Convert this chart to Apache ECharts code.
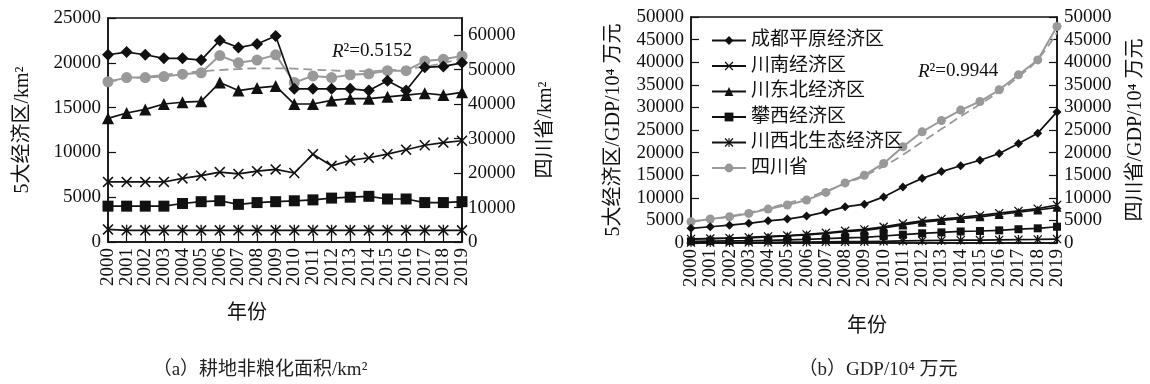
<!DOCTYPE html>
<html>
<head>
<meta charset="utf-8">
<script src="https://cdn.jsdelivr.net/npm/echarts@6/dist/echarts.min.js"></script>
<style>
  html, body { margin: 0; background: #fff; }
  #chart { width: 1150px; height: 384px; }
</style>
</head>
<body>
<div id="chart"></div>
<script>
const years = ['2000','2001','2002','2003','2004','2005','2006','2007','2008','2009',
  '2010','2011','2012','2013','2014','2015','2016','2017','2018','2019']
const seriesNames = ['成都平原经济区', '川南经济区', '川东北经济区', '攀西经济区', '川西北生态经济区', '四川省']

// (a) non-grain cropland area, km2
const areaChengdu = [20900, 21200, 20900, 20500, 20500, 20300, 22500, 21700, 22100, 23000,
  17100, 17100, 17100, 17100, 16900, 18000, 16900, 19500, 19600, 20000]
const areaSouth = [6700, 6700, 6700, 6700, 7100, 7400, 7800, 7600, 7900, 8100,
  7700, 9800, 8500, 9100, 9400, 9800, 10300, 10800, 11100, 11300]
const areaNortheast = [13800, 14400, 14800, 15400, 15600, 15700, 17800, 16900, 17200, 17400,
  15400, 15400, 15800, 16000, 16000, 16200, 16400, 16600, 16400, 16700]
const areaPanxi = [4000, 4000, 4000, 4000, 4300, 4500, 4600, 4200, 4400, 4500,
  4600, 4700, 4900, 5000, 5100, 4800, 4800, 4400, 4400, 4500]
const areaNorthwest = [1400, 1300, 1300, 1300, 1300, 1300, 1300, 1300, 1300, 1300,
  1300, 1300, 1300, 1300, 1300, 1300, 1300, 1300, 1300, 1300]
const areaSichuan = [46500, 47700, 47700, 48000, 48700, 49100, 54100, 52000, 52800, 54300,
  46300, 48200, 47700, 48500, 48800, 49700, 49700, 52500, 53000, 54000]
const areaSichuanTrend = [46600, 47300, 47900, 48500, 49000, 49500, 49900, 50200, 50400, 50400,
  50300, 50000, 49800, 49600, 49600, 49800, 50200, 50900, 51900, 53300]

// (b) GDP, 10^4 yuan
const gdpChengdu = [3250, 3600, 3950, 4350, 4900, 5300, 5950, 6900, 8000, 8600,
  10200, 12400, 14300, 15800, 17100, 18300, 19800, 22000, 24300, 29000]
const gdpSouth = [900, 1000, 1100, 1250, 1450, 1650, 1900, 2250, 2700, 3000,
  3600, 4300, 4900, 5300, 5700, 6100, 6600, 7100, 7600, 8400]
const gdpNortheast = [850, 950, 1050, 1150, 1350, 1550, 1800, 2100, 2500, 2800,
  3350, 4000, 4600, 5000, 5400, 5800, 6300, 6800, 7300, 7900]
const gdpPanxi = [350, 400, 450, 500, 600, 700, 800, 950, 1150, 1250,
  1550, 1850, 2150, 2350, 2550, 2650, 2800, 3050, 3250, 3600]
const gdpNorthwest = [100, 110, 120, 140, 160, 180, 210, 250, 290, 320,
  380, 450, 520, 580, 620, 650, 690, 740, 790, 860]
const gdpSichuan = [4700, 5300, 5800, 6550, 7500, 8400, 9500, 11200, 13300, 15000,
  17600, 21300, 24600, 27100, 29400, 31300, 33900, 37200, 40500, 47900]
const gdpSichuanTrend = [4700, 5200, 5900, 6700, 7700, 8800, 10000, 11500, 13100, 14900,
  17000, 19500, 22400, 25200, 28000, 30700, 33500, 36800, 40600, 46600]

const FONT = "'Liberation Serif', 'Noto Sans CJK SC', serif"
const BLACK = '#111'
const GRAY = '#999'

const crossPath = 'path://M1,0L5,4L9,0L10,1L6,5L10,9L9,10L5,6L1,10L0,9L4,5L0,1Z'
const starPath = 'path://M1,0L5,4L9,0L10,1L6,5L10,9L9,10L5,6L1,10L0,9L4,5L0,1Z' +
  'M4.4,0L5.6,0L5.6,10L4.4,10Z'
const symbols = ['diamond', crossPath, 'triangle', 'rect', starPath, 'circle']
const leftSizes = [12, 11, 12, 11, 11, 11]
const rightSizes = [9, 9, 9, 8, 9, 9]

function lineSeries(name, data, idx, gridIdx, yIdx, sizes) {
  const color = idx === 5 ? GRAY : BLACK
  return {
    name, type: 'line', data,
    xAxisIndex: gridIdx, yAxisIndex: yIdx,
    symbol: symbols[idx], symbolSize: sizes[idx],
    lineStyle: { color, width: idx === 5 ? 2 : 1.7 },
    itemStyle: { color, borderWidth: 0 },
    z: idx === 5 ? 3 : 4, animation: false,
  }
}

function trendSeries(name, data, gridIdx, yIdx) {
  return {
    name, type: 'line', data, xAxisIndex: gridIdx, yAxisIndex: yIdx,
    symbol: 'none', smooth: true,
    lineStyle: { color: GRAY, width: 1.8, type: [9, 5] },
    z: 2, animation: false,
  }
}

function xAxis(gridIndex, gap, pad) {
  return {
    type: 'category', data: years, gridIndex, boundaryGap: false,
    name: '年份', nameLocation: 'middle', nameGap: gap,
    nameTextStyle: { fontFamily: FONT, fontSize: 20, color: BLACK, padding: pad },
    axisLine: { lineStyle: { color: BLACK, width: 1.5 } },
    axisTick: { inside: true, length: 8, lineStyle: { color: BLACK, width: 1.2 } },
    axisLabel: { rotate: 90, interval: 0, margin: 6, fontFamily: FONT, fontSize: 19, color: BLACK },
  }
}

function yAxis(gridIndex, position, max, interval, name, gap, extra) {
  return Object.assign({
    type: 'value', gridIndex, position, min: 0, max, interval,
    name, nameLocation: 'middle', nameGap: gap, nameRotate: 90,
    nameTextStyle: { fontFamily: FONT, fontSize: 20, color: BLACK },
    splitLine: { show: false },
    axisLine: { show: true, lineStyle: { color: BLACK, width: 1.5 } },
    axisTick: { show: true, inside: true, length: 8, lineStyle: { color: BLACK, width: 1.2 } },
    axisLabel: { margin: 7, fontFamily: FONT, fontSize: 19, color: BLACK, formatter: v => String(v) },
  }, extra || {})
}

const chart = echarts.init(document.getElementById('chart'))
chart.setOption({
  backgroundColor: '#fff',
  textStyle: { fontFamily: FONT },
  title: [
    { text: '{i|R}²=0.5152', left: 327, top: 37,
      textStyle: { fontFamily: FONT, fontSize: 19, fontWeight: 'normal', color: BLACK,
        rich: { i: { fontFamily: FONT, fontSize: 19, fontStyle: 'italic', color: BLACK } } } },
    { text: '{i|R}²=0.9944', left: 913, top: 57,
      textStyle: { fontFamily: FONT, fontSize: 19, fontWeight: 'normal', color: BLACK,
        rich: { i: { fontFamily: FONT, fontSize: 19, fontStyle: 'italic', color: BLACK } } } },
    { text: '（a）耕地非粮化面积/km²', left: 255, top: 356, textAlign: 'center',
      textStyle: { fontFamily: FONT, fontSize: 19, fontWeight: 'normal', color: '#222' } },
    { text: '（b）GDP/10⁴ 万元', left: 873, top: 356, textAlign: 'center',
      textStyle: { fontFamily: FONT, fontSize: 19, fontWeight: 'normal', color: '#222' } },
  ],
  legend: {
    data: seriesNames, orient: 'vertical', left: 706, top: 26,
    itemWidth: 34, itemHeight: 11, itemGap: 6.5,
    textStyle: { fontFamily: FONT, fontSize: 19, color: BLACK },
  },
  grid: [
    { left: 108, right: 688, top: 18, bottom: 142, show: true, borderColor: BLACK, borderWidth: 1.5 },
    { left: 691, right: 93, top: 17, bottom: 141, show: true, borderColor: BLACK, borderWidth: 1.5 },
  ],
  xAxis: [xAxis(0, 62, [0, 76, 0, 0]), xAxis(1, 74, [0, 14, 0, 0])],
  yAxis: [
    yAxis(0, 'left', 25000, 5000, '5大经济区/km²', 75),
    yAxis(0, 'right', 65000, 10000, '四川省/km²', 74,
      { axisLabel: { margin: 6, fontFamily: FONT, fontSize: 19, color: BLACK, showMaxLabel: false, formatter: v => String(v) } }),
    yAxis(1, 'left', 50000, 5000, '5大经济区/GDP/10⁴ 万元', 67),
    yAxis(1, 'right', 50000, 5000, '四川省/GDP/10⁴ 万元', 69),
  ],
  series: [
    trendSeries('areaTrend', areaSichuanTrend, 0, 1),
    lineSeries(seriesNames[0], areaChengdu, 0, 0, 0, leftSizes),
    lineSeries(seriesNames[1], areaSouth, 1, 0, 0, leftSizes),
    lineSeries(seriesNames[2], areaNortheast, 2, 0, 0, leftSizes),
    lineSeries(seriesNames[3], areaPanxi, 3, 0, 0, leftSizes),
    lineSeries(seriesNames[4], areaNorthwest, 4, 0, 0, leftSizes),
    lineSeries(seriesNames[5], areaSichuan, 5, 0, 1, leftSizes),
    trendSeries('gdpTrend', gdpSichuanTrend, 1, 3),
    lineSeries(seriesNames[0], gdpChengdu, 0, 1, 2, rightSizes),
    lineSeries(seriesNames[1], gdpSouth, 1, 1, 2, rightSizes),
    lineSeries(seriesNames[2], gdpNortheast, 2, 1, 2, rightSizes),
    lineSeries(seriesNames[3], gdpPanxi, 3, 1, 2, rightSizes),
    lineSeries(seriesNames[4], gdpNorthwest, 4, 1, 2, rightSizes),
    lineSeries(seriesNames[5], gdpSichuan, 5, 1, 3, rightSizes),
  ],
})
</script>
</body>
</html>
